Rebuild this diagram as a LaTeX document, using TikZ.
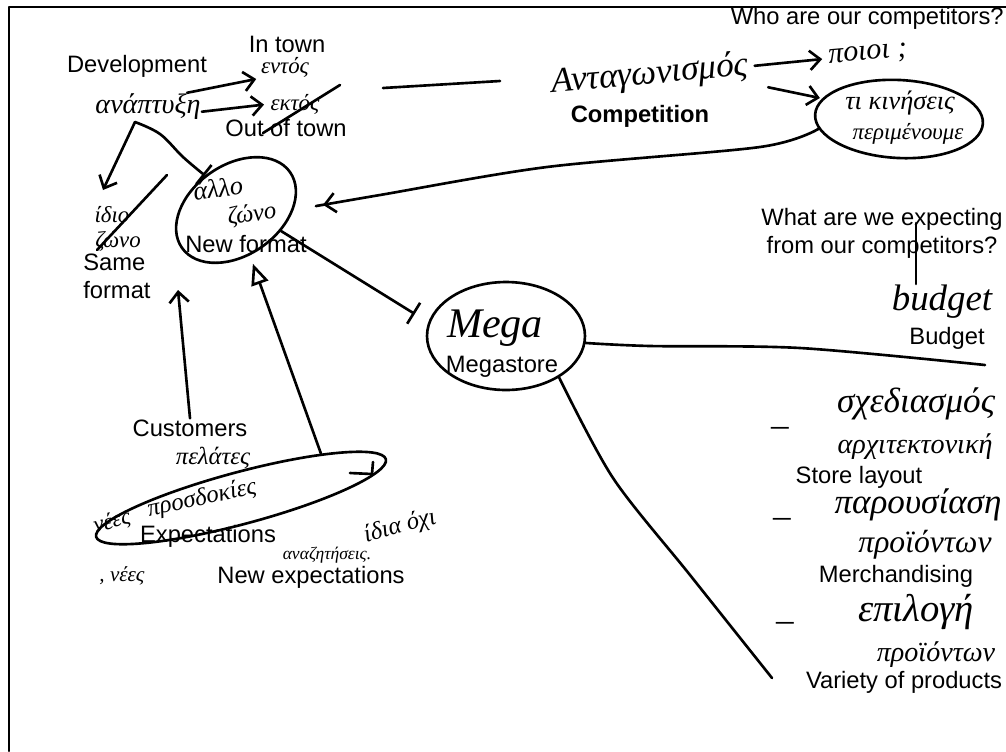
\documentclass[tikz,border=0pt]{standalone}
\usepackage{fontspec}
\setmainfont{Liberation Sans}
\newfontfamily\handfont{Liberation Serif}
\usetikzlibrary{shapes.geometric,arrows.meta}

\begin{document}
\begin{tikzpicture}[x=0.02cm, y=-0.02cm, line width=1.5pt,
  line cap=round, line join=round,
  lbl/.style={font=\fontsize{13.5}{16}\selectfont, inner sep=0pt},
  hw/.style={font=\handfont\itshape\fontsize{#1}{#1}\selectfont, inner sep=0pt},
  ring/.style={draw, ellipse, inner sep=0pt},
  barb/.style={-{Straight Barb[length=6pt,width=11pt]}},
  stopbar/.style={-{Bar[width=14pt]}},
  openhead/.style={-{Triangle[open,length=12pt,width=10pt]}}]
  \useasboundingbox (0,0) rectangle (1006,751);
  % page frame
  \draw[line width=1.2pt] (9,751) -- (9,7) -- (1006,7);

  % rings
  \node[ring, minimum width=2.64cm, minimum height=1.8cm, rotate=35]  (newring)  at (236,210) {};
  \node[ring, minimum width=3.16cm, minimum height=2.16cm]            (megaring) at (506,336) {};
  \node[ring, minimum width=6cm,    minimum height=1.04cm, rotate=15] (custring) at (241,498) {};
  \node[ring, minimum width=3.36cm, minimum height=1.56cm, rotate=-3] (compring) at (899,119) {};

  % typed labels
  \node[lbl]                         (dev)     at (137,66)  {Development};
  \node[lbl]                         (intown)  at (287,44)  {In town};
  \node[lbl]                         (outtown) at (286,128) {Out of town};
  \node[lbl, font=\bfseries\fontsize{13.5}{16}\selectfont]
                                     (compet)  at (640,116) {Competition};
  \node[lbl, anchor=east]            (who)     at (1005,18) {Who are our competitors?};
  \node[lbl, align=center]           (whatexp) at (882,233) {What are we expecting\\from our competitors?};
  \node[lbl, align=left, anchor=west](same)    at (82,276)  {Same\\format};
  \node[lbl]                         (newfmt)  at (246,244) {New format};
  \node[lbl]                         (mega)    at (502,367) {Megastore};
  \node[lbl]                         (budget)  at (947,338) {Budget};
  \node[lbl]                         (cust)    at (190,428) {Customers};
  \node[lbl]                         (expect)  at (208,536) {Expectations};
  \node[lbl]                         (newexp)  at (311,577) {New expectations};
  \node[lbl]                         (layout)  at (859,477) {Store layout};
  \node[lbl]                         (merch)   at (896,576) {Merchandising};
  \node[lbl]                         (variety) at (904,682) {Variety of products};

  % handwriting
  \node[hw=16]            (hwdev)    at (148,107) {ανάπτυξη};
  \node[hw=13]            (hwin)     at (285,67)  {εντός};
  \node[hw=13]            (hwout)    at (295,104) {εκτός};
  \node[hw=13]            (hwsamea)  at (112,215) {ίδιο};
  \node[hw=13]            (hwsameb)  at (118,241) {ζώνο};
  \node[hw=15, rotate=8]  (hwnewa)   at (218,188) {άλλο};
  \node[hw=14, rotate=8]  (hwnewb)   at (252,215) {ζώνο};
  \node[hw=20, rotate=5]  (hwcomp)   at (650,75)  {Ανταγωνισμός};
  \node[hw=17, rotate=5]  (hwwho)    at (868,55)  {ποιοι ;};
  \node[hw=15]            (hwexpa)   at (900,103) {τι κινήσεις};
  \node[hw=13]            (hwexpb)   at (908,134) {περιμένουμε};
  \node[hw=24]            (hwmega)   at (495,328) {Mega};
  \node[hw=21]            (hwbudget) at (942,302) {budget};
  \node[hw=20]            (dasha)    at (780,432) {–};
  \node[hw=20]            (hwlaya)   at (916,404) {σχεδιασμός};
  \node[hw=16]            (hwlayb)   at (915,447) {αρχιτεκτονική};
  \node[hw=20]            (dashb)    at (782,523) {–};
  \node[hw=20]            (hwmera)   at (918,505) {παρουσίαση};
  \node[hw=18]            (hwmerb)   at (925,545) {προϊόντων};
  \node[hw=20]            (dashc)    at (785,627) {–};
  \node[hw=22]            (hwvara)   at (916,612) {επιλογή};
  \node[hw=16]            (hwvarb)   at (936,655) {προϊόντων};
  \node[hw=14]            (hwcust)   at (213,458) {πελάτες};
  \node[hw=13, rotate=15] (hwnewc)   at (112,522) {νέες};
  \node[hw=14, rotate=12] (hwhope)   at (202,499) {προσδοκίες};
  \node[hw=10]            (hwseek)   at (327,555) {αναζητήσεις.};
  \node[hw=14, rotate=15] (hwnot)    at (400,527) {ίδια όχι};
  \node[hw=12]            (hwnewd)   at (122,576) {, νέες};

  % free ends
  \coordinate (devfoot)  at (135,122);
  \coordinate (samehead) at (103,190);
  \coordinate (samecuta) at (167,175);
  \coordinate (samecutb) at (97,250);
  \coordinate (crossa)   at (263,133);
  \coordinate (crossb)   at (340,85);
  \coordinate (rulea)    at (383,88);
  \coordinate (ruleb)    at (500,81);
  \coordinate (custtip)  at (178,290);
  \coordinate (rightend) at (985,365);
  \coordinate (downend)  at (772,678);
  \coordinate (expbar)   at ([xshift=0.68cm,yshift=0.2cm]whatexp.center);

  % development
  \draw[barb, shorten >=2pt] (hwdev.20) -- (hwin.south west);
  \draw[barb, shorten >=3pt] (hwdev.-5) -- (hwout.west);
  \draw (crossa) -- (crossb);
  \draw (rulea) -- (ruleb);
  \draw[barb] (devfoot) -- (samehead);
  \draw[stopbar] plot[smooth, tension=0.6]
    coordinates{(devfoot) (160,134) (183,157) (newring.97)};
  \draw (samecuta) -- (samecutb);

  % competition
  \draw[barb, shorten <=3pt, shorten >=3pt] (hwcomp.east) -- (hwwho.west);
  \draw[barb, shorten <=10pt, shorten >=14pt] (hwcomp.south east) -- (hwexpa.west);
  \draw[barb, shorten >=17pt] plot[smooth]
    coordinates{(compring.190) (760,147) (547,167) (380,195) (newring.-35)};
  \draw (expbar) -- (expbar |- hwbudget.north);

  % megastore
  \draw[stopbar, shorten >=9pt] (newring.-60) -- (megaring.170);
  \draw plot[smooth]
    coordinates{(megaring.-5) (650,346) (800,348) (rightend)};
  \draw plot[smooth]
    coordinates{(megaring.-38) (613,478) (690,575) (downend)};

  % customers
  \draw[barb] (cust.north) -- (custtip);
  \draw[openhead, shorten >=5pt] (custring.14) -- (newring.-108);
  \draw (373,462) -- (372,474) -- (350,473);
\end{tikzpicture}
\end{document}
